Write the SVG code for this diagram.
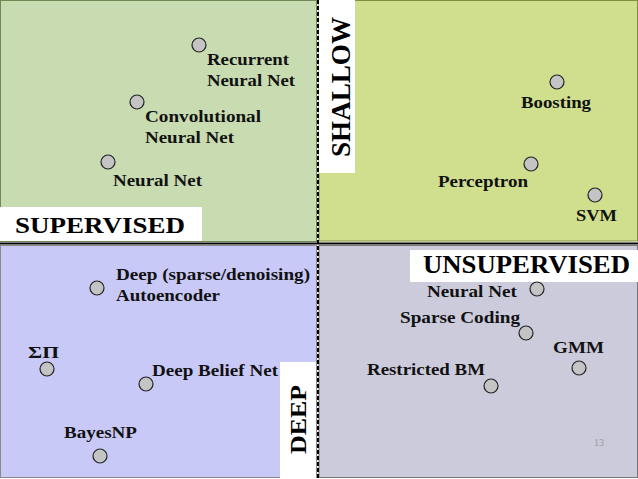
<svg xmlns="http://www.w3.org/2000/svg" width="638" height="479" viewBox="0 0 638 479">
<style>
.t{font-family:"Liberation Serif","Times New Roman",serif;font-weight:bold;font-size:17.5px;fill:#111}
.big{font-family:"Liberation Serif","Times New Roman",serif;font-weight:bold;fill:#000}
.dot{fill:#c4c4c4;stroke:#222;stroke-width:1.2}
.box{fill:#fff}
</style>
<g id="panels">
<rect x="0.5" y="0.5" width="316" height="241" fill="#c9dcb1" stroke="#6f8a55" stroke-width="1"/>
<rect x="319" y="0.5" width="318.5" height="240.5" fill="#cfdf8e" stroke="#7f8f3e" stroke-width="1"/>
<rect x="0.5" y="245.5" width="316" height="232" fill="#c9c9f8" stroke="#888" stroke-width="1"/>
<rect x="319" y="245.5" width="318.5" height="232" fill="#cccbdb" stroke="#777" stroke-width="1"/>
</g>
<g id="axes">
<line x1="0" y1="243.5" x2="638" y2="243.5" stroke="#000" stroke-width="2"/>
<line x1="318" y1="0" x2="318" y2="479" stroke="#000" stroke-width="2" stroke-dasharray="4,2"/>
</g>
<g id="label-supervised">
<rect class="box" x="0" y="207" width="202" height="34"/>
<text class="big" x="15" y="233" font-size="24" textLength="170" lengthAdjust="spacingAndGlyphs">SUPERVISED</text>
</g>
<g id="label-unsupervised">
<rect class="box" x="410" y="250" width="228" height="32"/>
<text class="big" x="423" y="273" font-size="26" textLength="207" lengthAdjust="spacingAndGlyphs">UNSUPERVISED</text>
</g>
<g id="label-shallow">
<rect class="box" x="319" y="0" width="36" height="173"/>
<text class="big" transform="translate(350,157) rotate(-90)" font-size="27" textLength="140" lengthAdjust="spacingAndGlyphs">SHALLOW</text>
</g>
<g id="label-deep">
<rect class="box" x="280" y="362" width="36" height="117"/>
<text class="big" transform="translate(306,454) rotate(-90)" font-size="24" textLength="69" lengthAdjust="spacingAndGlyphs">DEEP</text>
</g>
<g id="n-rnn"><circle class="dot" cx="199" cy="45" r="7"/><text class="t" x="207" y="65" textLength="82" lengthAdjust="spacingAndGlyphs">Recurrent</text><text class="t" x="207" y="86" textLength="88" lengthAdjust="spacingAndGlyphs">Neural Net</text></g>
<g id="n-cnn"><circle class="dot" cx="137" cy="102" r="7"/><text class="t" x="145" y="122" textLength="116" lengthAdjust="spacingAndGlyphs">Convolutional</text><text class="t" x="145" y="143" textLength="89" lengthAdjust="spacingAndGlyphs">Neural Net</text></g>
<g id="n-nn"><circle class="dot" cx="108" cy="162" r="7"/><text class="t" x="113" y="186" textLength="89" lengthAdjust="spacingAndGlyphs">Neural Net</text></g>
<g id="n-boost"><circle class="dot" cx="557" cy="82" r="7"/><text class="t" x="521" y="108" textLength="70" lengthAdjust="spacingAndGlyphs">Boosting</text></g>
<g id="n-perc"><circle class="dot" cx="531" cy="164" r="7"/><text class="t" x="438" y="187" textLength="90" lengthAdjust="spacingAndGlyphs">Perceptron</text></g>
<g id="n-svm"><circle class="dot" cx="595" cy="195" r="7"/><text class="t" x="576" y="221" textLength="41" lengthAdjust="spacingAndGlyphs">SVM</text></g>
<g id="n-ae"><circle class="dot" cx="97" cy="288" r="7"/><text class="t" x="116" y="280" textLength="194" lengthAdjust="spacingAndGlyphs">Deep (sparse/denoising)</text><text class="t" x="116" y="301" textLength="104" lengthAdjust="spacingAndGlyphs">Autoencoder</text></g>
<g id="n-sp"><circle class="dot" cx="47" cy="369" r="7"/><text class="t" x="28" y="358" textLength="31" lengthAdjust="spacingAndGlyphs">ΣΠ</text></g>
<g id="n-dbn"><circle class="dot" cx="146" cy="384" r="7"/><text class="t" x="152" y="376" textLength="126" lengthAdjust="spacingAndGlyphs">Deep Belief Net</text></g>
<g id="n-bayes"><circle class="dot" cx="100" cy="456" r="7"/><text class="t" x="64" y="438" textLength="73" lengthAdjust="spacingAndGlyphs">BayesNP</text></g>
<g id="n-unn"><circle class="dot" cx="537" cy="289" r="7"/><text class="t" x="427" y="297" textLength="90" lengthAdjust="spacingAndGlyphs">Neural Net</text></g>
<g id="n-sc"><circle class="dot" cx="526" cy="333" r="7"/><text class="t" x="400" y="323" textLength="120" lengthAdjust="spacingAndGlyphs">Sparse Coding</text></g>
<g id="n-gmm"><circle class="dot" cx="579" cy="368" r="7"/><text class="t" x="553" y="353" textLength="51" lengthAdjust="spacingAndGlyphs">GMM</text></g>
<g id="n-rbm"><circle class="dot" cx="491" cy="386" r="7"/><text class="t" x="367" y="375" textLength="118" lengthAdjust="spacingAndGlyphs">Restricted BM</text></g>
<text x="594" y="446" font-family="Liberation Serif, serif" font-size="10" fill="#999">13</text>
</svg>
